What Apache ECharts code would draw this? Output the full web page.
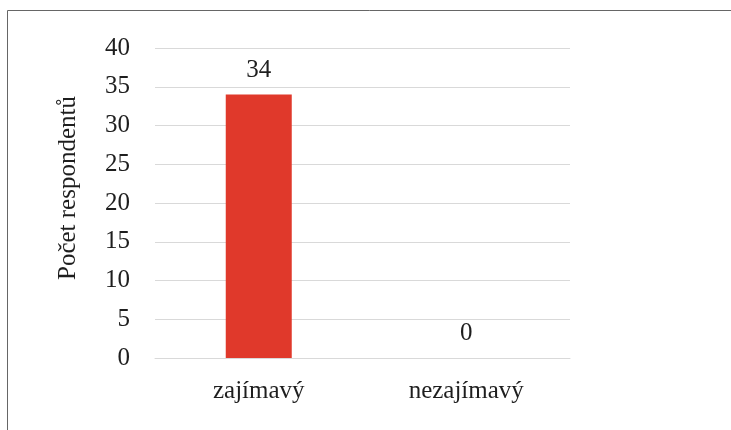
<!DOCTYPE html>
<html>
<head>
<meta charset="utf-8">
<script src="https://cdn.jsdelivr.net/npm/echarts@6/dist/echarts.min.js"></script>
<style>
  html, body { margin: 0; padding: 0; background: #fff; }
  #chart { width: 731px; height: 430px; }
</style>
</head>
<body>
<div id="chart"></div>
<script>
const categories = ['zajímavý', 'nezajímavý']
const respondents = [34, 0]
const axisName = 'Počet respondentů'

const chart = echarts.init(document.getElementById('chart'), null, { renderer: 'canvas' })

const font = 'Liberation Serif'
const textColor = '#1e1e1e'

const option = {
  animation: false,
  textStyle: { fontFamily: font },
  // frame of the chart area (cut off at the right and bottom)
  graphic: [
    {
      type: 'rect',
      shape: { x: 7.5, y: 10.5, width: 760, height: 460 },
      style: { fill: 'none', stroke: '#666666', lineWidth: 1 },
      silent: true
    }
  ],
  grid: {
    left: 155,
    right: 161,
    top: 48,
    bottom: 72
  },
  xAxis: {
    type: 'category',
    data: categories,
    axisTick: { show: false },
    axisLine: { show: true, lineStyle: { color: '#d9d9d9', width: 1 } },
    axisLabel: {
      color: textColor,
      fontFamily: font,
      fontSize: 25,
      margin: 21
    }
  },
  yAxis: {
    type: 'value',
    min: 0,
    max: 40,
    interval: 5,
    name: axisName,
    nameLocation: 'middle',
    nameGap: 74,
    nameTextStyle: {
      color: textColor,
      fontFamily: font,
      fontSize: 25,
      padding: [0, 0, 0, 30]
    },
    axisLine: { show: false },
    axisTick: { show: false },
    splitLine: { lineStyle: { color: '#d9d9d9', width: 1 } },
    axisLabel: {
      color: textColor,
      fontFamily: font,
      fontSize: 25,
      margin: 25
    }
  },
  series: [
    {
      type: 'bar',
      data: respondents,
      barWidth: 66,
      itemStyle: { color: '#E0392B' },
      label: {
        show: true,
        position: 'top',
        distance: 12,
        color: textColor,
        fontFamily: font,
        fontSize: 25
      }
    }
  ]
}

chart.setOption(option)
</script>
</body>
</html>
